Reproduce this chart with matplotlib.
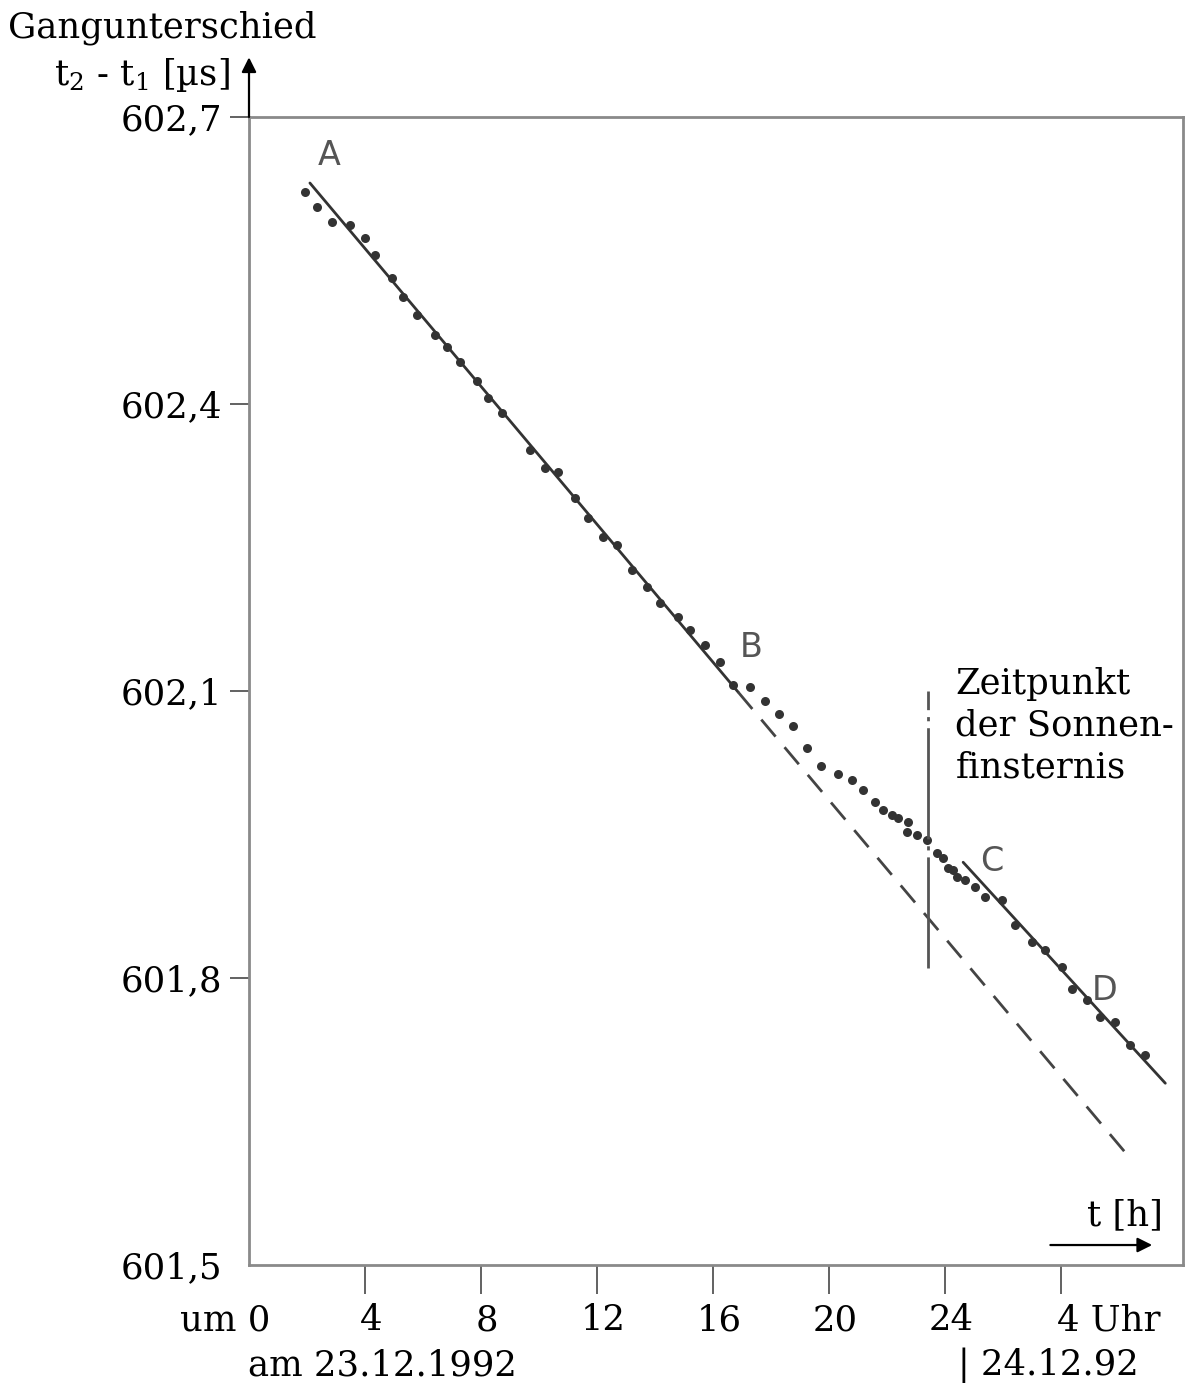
import matplotlib
matplotlib.use("Agg")
import matplotlib.pyplot as plt
import matplotlib.transforms as mtransforms

plt.rcParams['font.family'] = ['DejaVu Serif']
plt.rcParams['mathtext.fontset'] = 'dejavuserif'

# ---------------- data (t in h, value in µs) ----------------
ab_t = [1.93, 2.34, 2.86, 3.48, 4.00, 4.34, 4.93, 5.31, 5.79, 6.41, 6.83, 7.28,
        7.86, 8.24, 8.72, 9.69, 10.21, 10.66, 11.24, 11.69, 12.21, 12.69, 13.21,
        13.72, 14.17, 14.79, 15.21, 15.72, 16.24, 16.69]
ab_v = [602.622, 602.606, 602.590, 602.587, 602.574, 602.556, 602.532, 602.512,
        602.493, 602.472, 602.460, 602.444, 602.424, 602.406, 602.391, 602.352,
        602.333, 602.329, 602.302, 602.281, 602.261, 602.253, 602.227, 602.209,
        602.192, 602.177, 602.164, 602.148, 602.130, 602.106]

bc_t = [17.28, 17.79, 18.28, 18.76, 19.24, 19.72, 20.31, 20.79, 21.17, 21.59,
        21.86, 22.17, 22.38, 22.72, 22.69, 23.03, 23.38, 23.72, 23.93, 24.10,
        24.28, 24.41, 24.69]
bc_v = [602.104, 602.090, 602.076, 602.063, 602.040, 602.022, 602.013, 602.007,
        601.996, 601.984, 601.976, 601.970, 601.967, 601.963, 601.953, 601.950,
        601.944, 601.931, 601.925, 601.915, 601.913, 601.906, 601.902]

cd_t = [25.03, 25.38, 25.97, 26.41, 27.00, 27.45, 28.03, 28.38, 28.90, 29.34,
        29.86, 30.38, 30.90]
cd_v = [601.895, 601.885, 601.882, 601.855, 601.838, 601.829, 601.812, 601.788,
        601.777, 601.759, 601.754, 601.730, 601.720]

fit1_t = [2.10, 16.86]
fit1_v = [602.631, 602.099]
fit1_ext_t = [16.86, 30.31]
fit1_ext_v = [602.099, 601.614]
fit2_t = [24.62, 31.59]
fit2_v = [601.921, 601.690]

eclipse_t = 23.4
eclipse_v = [601.81, 602.10]

yticks = [601.5, 601.8, 602.1, 602.4, 602.7]
ytick_labels = ["601,5", "601,8", "602,1", "602,4", "602,7"]
xticks = [4, 8, 12, 16, 20, 24, 28]
xlabel_pos = [0, 4, 8, 12, 16, 20, 24, 28]
xlabel_text = ["um 0", "4", "8", "12", "16", "20", "24", "4 Uhr"]

point_labels = ["A", "B", "C", "D"]
point_label_t = [2.75, 17.3, 25.6, 29.5]
point_label_v = [602.660, 602.145, 601.922, 601.787]

FS = 25.5

# ---------------- figure ----------------
fig = plt.figure(figsize=(12, 13.85), dpi=100)
L, R, T, B = 249, 1183, 117, 1265
W, H = 1200, 1385
ax = fig.add_axes([L / W, 1 - B / H, (R - L) / W, (B - T) / H])
ax.set_xlim(0, 32.2)
ax.set_ylim(601.5, 602.7)

dark = '#333333'
ax.plot(fit1_t, fit1_v, color=dark, lw=2.0, solid_capstyle='round')
ax.plot(fit1_ext_t, fit1_ext_v, color='#444444', lw=2.0, dashes=(8, 5))
ax.plot(fit2_t, fit2_v, color=dark, lw=2.0, solid_capstyle='round')
ax.plot(ab_t, ab_v, 'o', color=dark, ms=6.5, mec='none')
ax.plot(bc_t, bc_v, 'o', color=dark, ms=6.5, mec='none')
ax.plot(cd_t, cd_v, 'o', color=dark, ms=6.5, mec='none')
ax.plot([eclipse_t, eclipse_t], eclipse_v, color='#555555', lw=2.0,
        dashes=(40, 2.5, 1.5, 2.5))

for s, t, v in zip(point_labels, point_label_t, point_label_v):
    ax.text(t, v, s, family='DejaVu Sans', fontsize=24, color='#555555',
            ha='center', va='center')

ax.text(24.35, 602.125, "Zeitpunkt\nder Sonnen-\nfinsternis", fontsize=FS,
        ha='left', va='top', linespacing=1.28)

# spines & ticks
for sp in ax.spines.values():
    sp.set_color('#8a8a8a')
    sp.set_linewidth(2.0)
ax.set_yticks(yticks)
ax.set_yticklabels(ytick_labels, fontsize=FS)
ax.set_xticks(xticks)
ax.set_xticklabels([])
ax.tick_params(axis='y', direction='out', length=14, width=1.3, color='#555555', pad=5)
ax.tick_params(axis='x', direction='out', length=21, width=1.3, color='#555555')
ax.yaxis.get_major_ticks()[0].tick1line.set_visible(False)

trans = mtransforms.blended_transform_factory(ax.transData, ax.transAxes)
for pos, txt in zip(xlabel_pos, xlabel_text):
    if txt.startswith("um"):
        ax.text(pos + 0.75, -0.048, txt, transform=trans, ha='right', va='center', fontsize=FS)
    elif "Uhr" in txt:
        ax.text(pos - 0.15, -0.048, txt, transform=trans, ha='left', va='center', fontsize=FS)
    else:
        ax.text(pos + 0.2, -0.048, txt, transform=trans, ha='center', va='center', fontsize=FS)

fig.text(248 / W, 1 - 1365 / H, "am 23.12.1992", ha='left', va='center', fontsize=FS)
fig.text(958 / W, 1 - 1365 / H, "| 24.12.92", ha='left', va='center', fontsize=FS)

# axis titles and arrows
fig.text(8 / W, 1 - 28 / H, "Gangunterschied", ha='left', va='center', fontsize=FS)
fig.text(230 / W, 1 - 75 / H, "t$_2$ - t$_1$ [µs]", ha='right', va='center', fontsize=FS)
ax.annotate("", xy=(0, 1.052), xytext=(0, 1.0), xycoords='axes fraction',
            arrowprops=dict(arrowstyle='-|>', color='black', lw=1.6,
                            mutation_scale=22, shrinkA=0, shrinkB=0),
            annotation_clip=False)
ax.annotate("", xy=(0.967, 0.0174), xytext=(0.858, 0.0174), xycoords='axes fraction',
            arrowprops=dict(arrowstyle='-|>', color='black', lw=1.6,
                            mutation_scale=22, shrinkA=0, shrinkB=0),
            annotation_clip=False)
ax.text(0.9786, 0.0436, "t [h]", transform=ax.transAxes, ha='right', va='center', fontsize=FS)

fig.savefig("out.png", dpi=100, facecolor='white')
